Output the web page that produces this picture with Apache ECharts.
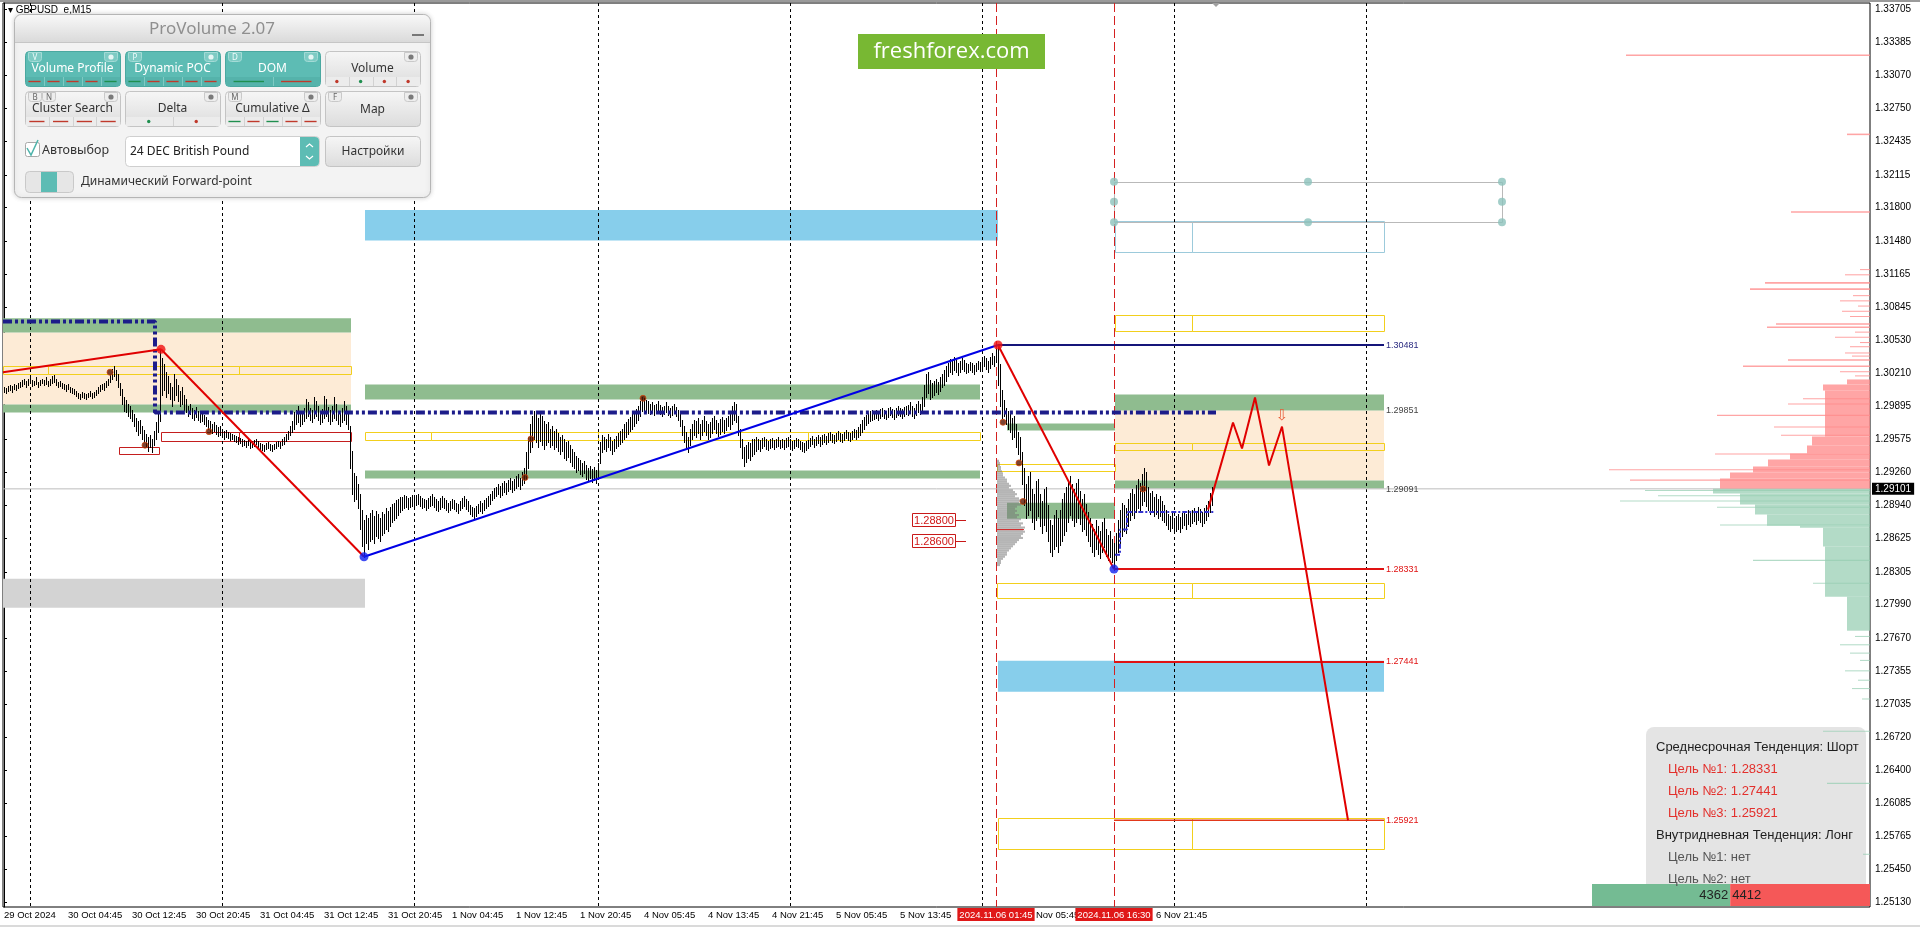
<!DOCTYPE html>
<html><head><meta charset="utf-8">
<script src="https://cdn.jsdelivr.net/npm/echarts@6/dist/echarts.min.js"></script>
<style>html,body{margin:0;padding:0;background:#fff;overflow:hidden}#c{width:1920px;height:927px}</style>
</head><body><div id="c"></div>
<script>
// ---------------- DATA ----------------
const barLow = [
1.3003,1.3002,1.3004,1.3005,1.3003,1.3006,1.3005,1.3007,1.3008,1.3009,
1.3011,1.3008,1.3010,1.3012,1.3009,1.3010,1.3011,1.3008,1.3010,1.3012,
1.3010,1.3011,1.3009,1.3010,1.3012,1.3013,1.3010,1.3008,1.3009,1.3007,
1.3006,1.3004,1.3006,1.3003,1.3002,1.3001,1.2999,1.2997,1.2996,1.2998,
1.2997,1.2996,1.2998,1.2999,1.2997,1.2998,1.3000,1.3002,1.3004,1.3006,
1.3005,1.3008,1.3010,1.3013,1.3016,1.3018,1.3015,1.3008,1.3000,1.2992,
1.2985,1.2984,1.2980,1.2978,1.2975,1.2970,1.2966,1.2962,1.2964,1.2958,
1.2955,1.2950,1.2946,1.2950,1.2945,1.2952,1.2958,1.2965,1.2975,1.3000,
1.3005,1.2998,1.3002,1.2996,1.2990,1.2995,1.3000,1.2994,1.2990,1.2992,
1.2986,1.2984,1.2980,1.2982,1.2978,1.2976,1.2979,1.2976,1.2974,1.2975,
1.2972,1.2970,1.2968,1.2966,1.2964,1.2966,1.2963,1.2961,1.2962,1.2960,
1.2958,1.2960,1.2959,1.2957,1.2958,1.2956,1.2955,1.2953,1.2954,1.2951,
1.2952,1.2950,1.2952,1.2949,1.2950,1.2951,1.2953,1.2950,1.2948,1.2947,
1.2946,1.2948,1.2949,1.2947,1.2946,1.2948,1.2949,1.2951,1.2949,1.2952,
1.2953,1.2956,1.2958,1.2962,1.2965,1.2968,1.2972,1.2974,1.2970,1.2972,
1.2975,1.2978,1.2980,1.2976,1.2974,1.2978,1.2980,1.2976,1.2972,1.2974,
1.2978,1.2980,1.2975,1.2972,1.2975,1.2978,1.2976,1.2972,1.2970,1.2974,
1.2976,1.2972,1.2968,1.2930,1.2905,1.2898,1.2900,1.2892,1.2872,1.2855,
1.2845,1.2858,1.2852,1.2860,1.2862,1.2858,1.2865,1.2863,1.2860,1.2866,
1.2868,1.2872,1.2870,1.2874,1.2878,1.2880,1.2882,1.2885,1.2888,1.2890,
1.2892,1.2893,1.2891,1.2893,1.2894,1.2892,1.2895,1.2896,1.2894,1.2892,
1.2893,1.2890,1.2892,1.2894,1.2895,1.2893,1.2890,1.2889,1.2891,1.2893,
1.2892,1.2890,1.2888,1.2890,1.2892,1.2891,1.2889,1.2887,1.2890,1.2892,
1.2894,1.2891,1.2889,1.2886,1.2884,1.2882,1.2884,1.2887,1.2889,1.2887,
1.2890,1.2892,1.2894,1.2896,1.2899,1.2901,1.2903,1.2905,1.2902,1.2904,
1.2907,1.2905,1.2908,1.2910,1.2907,1.2909,1.2911,1.2913,1.2910,1.2914,
1.2916,1.2920,1.2930,1.2945,1.2950,1.2958,1.2955,1.2950,1.2956,1.2952,
1.2948,1.2952,1.2955,1.2950,1.2952,1.2948,1.2950,1.2946,1.2944,1.2946,
1.2940,1.2938,1.2941,1.2936,1.2932,1.2930,1.2926,1.2928,1.2924,1.2922,
1.2925,1.2920,1.2918,1.2921,1.2917,1.2919,1.2916,1.2920,1.2935,1.2945,
1.2948,1.2946,1.2950,1.2947,1.2944,1.2946,1.2949,1.2951,1.2953,1.2955,
1.2958,1.2960,1.2963,1.2966,1.2968,1.2970,1.2973,1.2976,1.2980,1.2985,
1.2986,1.2984,1.2983,1.2982,1.2984,1.2981,1.2983,1.2985,1.2982,1.2980,
1.2982,1.2984,1.2981,1.2979,1.2981,1.2983,1.2980,1.2976,1.2970,1.2962,
1.2955,1.2948,1.2945,1.2952,1.2958,1.2962,1.2960,1.2964,1.2958,1.2962,
1.2966,1.2962,1.2958,1.2960,1.2964,1.2968,1.2964,1.2961,1.2963,1.2966,
1.2964,1.2967,1.2970,1.2968,1.2972,1.2976,1.2974,1.2962,1.2950,1.2940,
1.2932,1.2936,1.2940,1.2938,1.2942,1.2944,1.2946,1.2948,1.2946,1.2949,
1.2951,1.2948,1.2947,1.2949,1.2950,1.2948,1.2950,1.2951,1.2949,1.2950,
1.2948,1.2950,1.2951,1.2949,1.2947,1.2949,1.2951,1.2950,1.2948,1.2946,
1.2945,1.2947,1.2949,1.2951,1.2953,1.2950,1.2952,1.2954,1.2951,1.2953,
1.2955,1.2953,1.2955,1.2957,1.2955,1.2954,1.2956,1.2958,1.2956,1.2955,
1.2957,1.2959,1.2957,1.2956,1.2958,1.2960,1.2958,1.2960,1.2962,1.2965,
1.2968,1.2971,1.2973,1.2975,1.2976,1.2977,1.2978,1.2976,1.2978,1.2980,
1.2978,1.2977,1.2979,1.2981,1.2979,1.2977,1.2979,1.2981,1.2980,1.2978,
1.2980,1.2982,1.2981,1.2983,1.2980,1.2978,1.2981,1.2984,1.2982,1.2985,
1.2990,1.2998,1.3002,1.2996,1.2998,1.3000,1.3003,1.3001,1.3004,1.3008,
1.3010,1.3014,1.3018,1.3022,1.3020,1.3024,1.3022,1.3019,1.3022,1.3025,
1.3023,1.3021,1.3022,1.3024,1.3022,1.3020,1.3023,1.3025,1.3023,1.3026,
1.3028,1.3025,1.3022,1.3026,1.3030,1.3028,1.3032,1.3010,1.2990,1.2978,
1.2980,1.2972,1.2968,1.2965,1.2958,1.2960,1.2950,1.2944,1.2938,1.2915,
1.2895,1.2882,1.2885,1.2890,1.2878,1.2872,1.2880,1.2884,1.2874,1.2868,
1.2875,1.2870,1.2860,1.2850,1.2846,1.2852,1.2855,1.2850,1.2856,1.2860,
1.2866,1.2870,1.2878,1.2885,1.2880,1.2874,1.2878,1.2882,1.2876,1.2870,
1.2872,1.2866,1.2860,1.2855,1.2850,1.2846,1.2852,1.2848,1.2844,1.2850,
1.2854,1.2846,1.2842,1.2845,1.2840,1.2833,1.2842,1.2850,1.2858,1.2865,
1.2870,1.2868,1.2874,1.2880,1.2885,1.2882,1.2888,1.2892,1.2890,1.2895,
1.2898,1.2894,1.2890,1.2886,1.2888,1.2884,1.2886,1.2882,1.2884,1.2880,
1.2878,1.2875,1.2872,1.2870,1.2873,1.2868,1.2870,1.2872,1.2869,1.2873,
1.2875,1.2872,1.2876,1.2874,1.2877,1.2879,1.2876,1.2880,1.2878,1.2874,
1.2877,1.2880,1.2884,1.2888,1.2895];
const barHigh = [
1.3008,1.3007,1.3009,1.3010,1.3009,1.3011,1.3010,1.3012,1.3013,1.3015,
1.3016,1.3014,1.3016,1.3018,1.3015,1.3014,1.3017,1.3013,1.3015,1.3016,
1.3015,1.3017,1.3014,1.3016,1.3018,1.3019,1.3016,1.3013,1.3014,1.3012,
1.3011,1.3010,1.3011,1.3008,1.3007,1.3006,1.3004,1.3002,1.3001,1.3003,
1.3002,1.3001,1.3002,1.3004,1.3002,1.3003,1.3005,1.3008,1.3010,1.3011,
1.3012,1.3014,1.3016,1.3020,1.3025,1.3028,1.3024,1.3020,1.3012,1.3006,
1.2998,1.2995,1.2992,1.2990,1.2986,1.2982,1.2978,1.2975,1.2976,1.2970,
1.2967,1.2963,1.2960,1.2962,1.2958,1.2966,1.2974,1.2985,1.3044,1.3036,
1.3030,1.3022,1.3018,1.3012,1.3008,1.3020,1.3016,1.3010,1.3004,1.3008,
1.3000,1.2996,1.2990,1.2992,1.2988,1.2986,1.2989,1.2985,1.2983,1.2984,
1.2981,1.2979,1.2976,1.2975,1.2972,1.2974,1.2971,1.2969,1.2970,1.2968,
1.2966,1.2967,1.2965,1.2964,1.2963,1.2962,1.2961,1.2960,1.2959,1.2958,
1.2957,1.2956,1.2958,1.2955,1.2956,1.2957,1.2958,1.2956,1.2954,1.2953,
1.2952,1.2954,1.2955,1.2953,1.2952,1.2953,1.2955,1.2956,1.2955,1.2958,
1.2960,1.2963,1.2966,1.2970,1.2975,1.2984,1.2986,1.2990,1.2984,1.2985,
1.2988,1.2996,1.2993,1.2988,1.2986,1.2998,1.2994,1.2990,1.2985,1.2987,
1.2999,1.2996,1.2989,1.2986,1.2990,1.2998,1.2992,1.2985,1.2983,1.2988,
1.2994,1.2990,1.2985,1.2970,1.2946,1.2925,1.2922,1.2915,1.2905,1.2890,
1.2880,1.2885,1.2882,1.2887,1.2890,1.2884,1.2889,1.2886,1.2882,1.2888,
1.2886,1.2892,1.2889,1.2893,1.2896,1.2897,1.2899,1.2900,1.2902,1.2902,
1.2904,1.2903,1.2901,1.2902,1.2904,1.2903,1.2904,1.2905,1.2903,1.2901,
1.2900,1.2899,1.2901,1.2903,1.2905,1.2902,1.2900,1.2898,1.2901,1.2903,
1.2901,1.2899,1.2897,1.2898,1.2900,1.2899,1.2897,1.2896,1.2898,1.2901,
1.2903,1.2900,1.2898,1.2895,1.2893,1.2892,1.2894,1.2896,1.2898,1.2897,
1.2899,1.2901,1.2903,1.2905,1.2908,1.2911,1.2912,1.2915,1.2913,1.2916,
1.2918,1.2916,1.2919,1.2921,1.2918,1.2920,1.2922,1.2924,1.2921,1.2926,
1.2930,1.2945,1.2960,1.2972,1.2980,1.2985,1.2982,1.2978,1.2984,1.2980,
1.2975,1.2972,1.2974,1.2968,1.2970,1.2966,1.2968,1.2964,1.2960,1.2962,
1.2958,1.2955,1.2956,1.2952,1.2948,1.2945,1.2942,1.2940,1.2938,1.2935,
1.2937,1.2933,1.2930,1.2932,1.2929,1.2931,1.2928,1.2935,1.2955,1.2962,
1.2960,1.2958,1.2963,1.2960,1.2956,1.2958,1.2961,1.2964,1.2966,1.2968,
1.2972,1.2974,1.2977,1.2979,1.2982,1.2984,1.2987,1.2990,1.2994,1.2998,
1.2997,1.2995,1.2994,1.2992,1.2993,1.2991,1.2992,1.2994,1.2991,1.2989,
1.2990,1.2993,1.2990,1.2988,1.2990,1.2992,1.2989,1.2986,1.2982,1.2976,
1.2970,1.2965,1.2960,1.2968,1.2972,1.2976,1.2975,1.2978,1.2972,1.2976,
1.2980,1.2975,1.2972,1.2974,1.2978,1.2980,1.2976,1.2973,1.2977,1.2979,
1.2976,1.2978,1.2980,1.2984,1.2990,1.2993,1.2992,1.2980,1.2968,1.2958,
1.2950,1.2952,1.2955,1.2954,1.2958,1.2958,1.2960,1.2958,1.2957,1.2959,
1.2960,1.2958,1.2956,1.2958,1.2959,1.2957,1.2958,1.2960,1.2957,1.2958,
1.2957,1.2959,1.2960,1.2958,1.2956,1.2957,1.2959,1.2958,1.2956,1.2955,
1.2954,1.2956,1.2957,1.2959,1.2961,1.2958,1.2960,1.2962,1.2960,1.2962,
1.2963,1.2961,1.2964,1.2965,1.2963,1.2962,1.2964,1.2966,1.2964,1.2963,
1.2965,1.2967,1.2965,1.2964,1.2966,1.2968,1.2967,1.2969,1.2972,1.2976,
1.2979,1.2981,1.2983,1.2985,1.2986,1.2985,1.2986,1.2985,1.2987,1.2988,
1.2986,1.2985,1.2988,1.2989,1.2987,1.2986,1.2988,1.2990,1.2988,1.2987,
1.2989,1.2990,1.2991,1.2993,1.2990,1.2988,1.2992,1.2994,1.2992,1.2998,
1.3010,1.3020,1.3022,1.3015,1.3012,1.3014,1.3016,1.3013,1.3017,1.3020,
1.3024,1.3028,1.3031,1.3035,1.3033,1.3037,1.3034,1.3031,1.3033,1.3036,
1.3034,1.3031,1.3030,1.3032,1.3031,1.3029,1.3031,1.3033,1.3032,1.3035,
1.3038,1.3036,1.3033,1.3037,1.3040,1.3038,1.3044,1.3048,1.3030,1.3005,
1.2995,1.2988,1.2985,1.2982,1.2978,1.2980,1.2972,1.2965,1.2960,1.2945,
1.2930,1.2915,1.2922,1.2926,1.2910,1.2905,1.2918,1.2920,1.2905,1.2898,
1.2910,1.2912,1.2895,1.2880,1.2875,1.2885,1.2890,1.2882,1.2890,1.2900,
1.2906,1.2912,1.2918,1.2922,1.2915,1.2910,1.2916,1.2920,1.2908,1.2900,
1.2905,1.2896,1.2888,1.2882,1.2876,1.2872,1.2880,1.2874,1.2870,1.2878,
1.2882,1.2872,1.2866,1.2870,1.2862,1.2858,1.2868,1.2880,1.2890,1.2897,
1.2895,1.2892,1.2900,1.2906,1.2910,1.2905,1.2914,1.2920,1.2916,1.2924,
1.2930,1.2926,1.2912,1.2906,1.2908,1.2902,1.2905,1.2900,1.2903,1.2898,
1.2895,1.2890,1.2886,1.2884,1.2887,1.2882,1.2884,1.2886,1.2883,1.2887,
1.2889,1.2886,1.2890,1.2888,1.2890,1.2892,1.2889,1.2893,1.2891,1.2888,
1.2892,1.2895,1.2898,1.2906,1.2912];

const yTickValues = [1.33705,1.33385,1.33070,1.32750,1.32435,1.32115,1.31800,1.31480,1.31165,1.30845,1.30530,1.30210,1.29895,1.29575,1.29260,1.28940,1.28625,1.28305,1.27990,1.27670,1.27355,1.27035,1.26720,1.26400,1.26085,1.25765,1.25450,1.25130];
const xTickIdx = [0,32,64,96,128,160,192,224,256,288,320,352,384,416,448,480,512,544,576];
const xTickText = ['29 Oct 2024','30 Oct 04:45','30 Oct 12:45','30 Oct 20:45','31 Oct 04:45','31 Oct 12:45','31 Oct 20:45','1 Nov 04:45','1 Nov 12:45','1 Nov 20:45','4 Nov 05:45','4 Nov 13:45','4 Nov 21:45','5 Nov 05:45','5 Nov 13:45','5 Nov 21:45','6 Nov 05:45','6 Nov 13:45','6 Nov 21:45'];
const markIdx = [496, 555];
const markText = ['2024.11.06 01:45','2024.11.06 16:30'];
const daySepIdx = [13,109,205,297,393,489,585,681];
const lastPrice = 1.29101;

// zones: [startBar, endBar, lowPrice, highPrice]
const greenBands = [[-0.5,173.5,1.30602,1.30737],[-0.5,173.5,1.29834,1.29911],[180.5,488,1.29959,1.30103],[180.5,488,1.29200,1.29277],[501.5,555.5,1.29661,1.29728],[501.5,555.5,1.28815,1.28969],[555.5,690,1.29853,1.30007],[555.5,690,1.29104,1.29181]];
const peachZones = [[-0.5,173.5,1.29911,1.30602],[555.5,690,1.29181,1.29853]];
const blueZones = [[180.5,497,1.31484,1.31778],[497,690,1.27154,1.27451]];
const grayZones = [[-0.5,180.5,1.27960,1.28239]];
const yellowBoxes = [[-0.5,22,1.30208,1.30276],[22,117.5,1.30208,1.30276],[117.5,173.5,1.30208,1.30276],
 [180.5,213.5,1.29574,1.29651],[213.5,297,1.29574,1.29651],[297,402,1.29574,1.29651],[402,488,1.29574,1.29651],
 [496.5,555.5,1.29277,1.29344],[555.5,594,1.30612,1.30766],[594,690,1.30612,1.30766],
 [555.5,594,1.29478,1.29545],[594,690,1.29478,1.29545],[496.5,594,1.28057,1.28201],[594,690,1.28057,1.28201],
 [497,594,1.25645,1.25943],[594,690,1.25645,1.25943]];
const redBoxes = [[57.5,77.5,1.29437,1.29503],[78.5,117.5,1.29565,1.29642],[117.5,173.5,1.29565,1.29642]];
const lightBlueBoxes = [[555.5,594,1.31378,1.31668],[594,690,1.31378,1.31668]];
const selectedRect = [[555,749,1.31660,1.32049]];
const selectedDots = [[555,1.32049],[652,1.32049],[749,1.32049],[555,1.31855],[749,1.31855],[555,1.31660],[652,1.31660],[749,1.31660]];

// trend lines / levels
const trendRed1 = [[-0.5,1.30221],[78.5,1.30440]];
const trendRed2 = [[78.5,1.30440],[180,1.28449]];
const trendBlue = [[180,1.28449],[497,1.30481]];
const trendRed3 = [[497,1.30481],[555,1.28331]];
const levelPrices = [1.30481,1.28331,1.27441,1.25921];
const levelStart = [497,555,555,555];
const levelEnd = 690;
const levelLabelPrices = [1.30481,1.29851,1.29091,1.28331,1.27441,1.25921];
const forecastIdx = [602,614.5,619,625.5,632.5,639,672];
const forecastPrice = [1.28902,1.29738,1.29488,1.29978,1.29325,1.29699,1.25921];
const arrowPoint = [639,1.29800];
const pocMain = [[-0.5,1.30708],[75.5,1.30708],[75.5,1.29834],[606,1.29834]];
const pocShort = [[555.5,1.2847],[558,1.2847],[558,1.2871],[561.5,1.2871],[561.5,1.2888],[605.5,1.2888]];
const swingHighs = [[78.5,1.30440],[497,1.30481]];
const swingLows = [[180,1.28449],[555,1.28331]];
const fractalDots = [[53,1.3022],[70.5,1.2952],[102.5,1.2965],[260.5,1.2921],[263.5,1.2958],[319.5,1.2997],[499.5,1.2974],[507.5,1.2935],[509.5,1.2898],[569.5,1.2910]];
const priceTags = [1.28800,1.28600];

// session volume profile (left of 2024.11.06): [lowPrice, highPrice, volume in bars]
const sessionProfile = [[1.2936,1.2938,1],[1.2934,1.2936,1.5],[1.2932,1.2934,1.5],[1.2930,1.2932,2],[1.2928,1.2930,2],[1.2926,1.2928,2.5],[1.2924,1.2926,3],[1.2922,1.2924,3],[1.2920,1.2922,4],[1.2918,1.2920,5],[1.2916,1.2918,5],[1.2914,1.2916,6],[1.2912,1.2914,7],[1.2910,1.2912,6],[1.2908,1.2910,8],[1.2906,1.2908,9],[1.2904,1.2906,10],[1.2902,1.2904,9],[1.2900,1.2902,11],[1.2898,1.2900,12],[1.2896,1.2898,11],[1.2894,1.2896,12],[1.2892,1.2894,10],[1.2890,1.2892,9],[1.2888,1.2890,10],[1.2886,1.2888,9],[1.2884,1.2886,11],[1.2882,1.2884,10],[1.2880,1.2882,12],[1.2878,1.2880,11],[1.2876,1.2878,13],[1.2874,1.2876,12],[1.2872,1.2874,14],[1.2870,1.2872,13],[1.2868,1.2870,14],[1.2866,1.2868,13],[1.2864,1.2866,12],[1.2862,1.2864,13],[1.2860,1.2862,11],[1.2858,1.2860,10],[1.2856,1.2858,9],[1.2854,1.2856,8],[1.2852,1.2854,7],[1.2850,1.2852,6],[1.2848,1.2850,5],[1.2846,1.2848,5],[1.2844,1.2846,4],[1.2842,1.2844,3],[1.2840,1.2842,2],[1.2838,1.2840,2],[1.2836,1.2838,1.5]];
const sessionPoc = 1.2871;

// DOM profile at right edge: [lowPrice, highPrice, volume]
const askProfile = [[1.33255,1.33270,244],[1.32495,1.32510,23],[1.31750,1.31765,79],[1.31200,1.31210,10],[1.31150,1.31160,25],[1.31070,1.31085,105],[1.31010,1.31025,120],[1.30950,1.30960,17],[1.30900,1.30910,30],[1.30850,1.30860,12],[1.30800,1.30810,28],[1.30750,1.30760,20],[1.30675,1.30690,94],[1.30645,1.30660,103],[1.30600,1.30610,15],[1.30550,1.30560,35],[1.30500,1.30510,10],[1.30460,1.30470,20],[1.30400,1.30410,25],[1.30370,1.30380,18],[1.30330,1.30345,82],[1.30270,1.30285,127],[1.30220,1.30230,30],[1.30180,1.30190,15],[1.30103,1.30151,23],[1.30045,1.30103,47],[1.29603,1.30045,45],[1.29960,1.29970,67],[1.29910,1.29920,82],[1.29800,1.29812,153],[1.29690,1.29700,96],[1.29610,1.29620,89],[1.29517,1.29603,58],[1.29440,1.29517,63],[1.29382,1.29440,80],[1.29430,1.29440,155],[1.29315,1.29382,102],[1.29257,1.29315,117],[1.29280,1.29290,261],[1.29200,1.29257,140],[1.29180,1.29190,240],[1.29101,1.29200,150]];
const bidProfile = [[1.29056,1.29101,157],[1.29080,1.29090,225],[1.29030,1.29040,212],[1.28950,1.29056,130],[1.28980,1.28990,250],[1.28854,1.28950,115],[1.28920,1.28930,153],[1.28748,1.28854,103],[1.28750,1.28760,150],[1.28729,1.28748,70],[1.28547,1.28729,47],[1.28066,1.28547,45],[1.28410,1.28420,117],[1.28190,1.28200,57],[1.27740,1.28066,23],[1.27680,1.27690,15],[1.27600,1.27610,30],[1.27520,1.27530,20],[1.27450,1.27460,10],[1.27350,1.27360,25],[1.27260,1.27270,12],[1.27180,1.27190,18],[1.27080,1.27090,8],[1.26770,1.26780,47],[1.26270,1.26280,43],[1.25590,1.25600,7]];
const buyVol = 4362, sellVol = 4412;
const infoLines = ['Среднесрочная Тенденция: Шорт','Цель №1: 1.28331','Цель №2: 1.27441','Цель №3: 1.25921','Внутридневная Тенденция: Лонг','Цель №1: нет','Цель №2: нет'];

// ---------------- CHART ----------------
const Y_MIN = 1.25089, Y_MAX = 1.33763, X_MIN = -0.5, X_MAX = 933;
const F = '"Liberation Sans", Arial, sans-serif';
const UI = '"Noto Sans", "Open Sans", sans-serif';
const chart = echarts.init(document.getElementById('c'), null, {width:1920, height:927});

const crisp = v => Math.round(v) + 0.5;
function fillZones(data, color, z){
  return {type:'custom', z, silent:true, data, encode:{x:[0,1], y:[2,3]},
    renderItem(p, api){
      const a = api.coord([api.value(0), api.value(3)]), b = api.coord([api.value(1), api.value(2)]);
      return {type:'rect', shape:{x:a[0], y:a[1], width:b[0]-a[0], height:b[1]-a[1]}, style:{fill:color}};
    }};
}
function strokeZones(data, color, z, lw){
  return {type:'custom', z, silent:true, data, encode:{x:[0,1], y:[2,3]},
    renderItem(p, api){
      const a = api.coord([api.value(0), api.value(3)]), b = api.coord([api.value(1), api.value(2)]);
      const x0 = crisp(a[0]), y0 = crisp(a[1]), x1 = crisp(b[0]), y1 = crisp(b[1]);
      return {type:'rect', shape:{x:x0, y:y0, width:x1-x0, height:y1-y0}, style:{fill:'none', stroke:color, lineWidth:lw||1}};
    }};
}
function vLines(idx, color, dash, z){
  return {type:'custom', z, silent:true, data: idx.map(v=>[v, Y_MIN]), encode:{x:0, y:1},
    renderItem(p, api){
      const a = api.coord([api.value(0), Y_MAX]), b = api.coord([api.value(0), Y_MIN]);
      const x = crisp(a[0]);
      return {type:'line', shape:{x1:x, y1:a[1], x2:x, y2:b[1]}, style:{stroke:color, lineWidth:1, lineDash:dash}};
    }};
}
function poly(data, color, width, z, dash){
  return {type:'line', z, silent:true, data, symbol:'none', animation:false,
    lineStyle:{color, width, type: dash || 'solid'}};
}
function profileSeries(data, color, z){
  return {type:'custom', z, silent:true, xAxisIndex:2, data, encode:{x:2, y:[0,1]},
    renderItem(p, api){
      const a = api.coord([api.value(2), api.value(1)]), b = api.coord([0, api.value(0)]);
      const h = Math.max(1, b[1]-a[1]);
      return {type:'rect', shape:{x:a[0], y:a[1], width:b[0]-a[0], height:h}, style:{fill:color}};
    }};
}

const levelColors = ['#15157a','#e01212','#e01212','#e2381a'];
const levelWidths = [2,2,2,1.5];
const levelLabelColors = ['#2a2a80','#444','#444','#e01212','#e01212','#e01212'];

const series = [];
series.push(fillZones(peachZones, '#fdebd6', 1));
series.push(fillZones(greenBands, '#8fbc8f', 1));
series.push(fillZones(blueZones, '#87ceeb', 1));
series.push(fillZones(grayZones, '#d3d3d3', 1));
series.push(strokeZones(yellowBoxes, '#f2cf1d', 2));
series.push(strokeZones(redBoxes, '#c41e1e', 2));
series.push(strokeZones(lightBlueBoxes, '#9ccadb', 2));
series.push(strokeZones(selectedRect, '#b9b9b9', 2));
series.push(vLines(daySepIdx, '#000', [3,3], 3));
series.push(vLines(markIdx, '#d42020', [9,4], 3));
series.push(poly([[X_MIN,lastPrice],[X_MAX,lastPrice]], '#bdbdbd', 1, 3));
// session profile
series.push({type:'custom', z:3, silent:true, data:sessionProfile, encode:{x:2, y:[0,1]},
  renderItem(p, api){
    const a = api.coord([markIdx[0]+0.5, api.value(1)]), b = api.coord([markIdx[0]+0.5+api.value(2), api.value(0)]);
    return {type:'rect', shape:{x:a[0], y:a[1], width:b[0]-a[0], height:b[1]-a[1]}, style:{fill:'rgba(120,120,120,0.55)'}};
  }});
series.push(poly([[markIdx[0]+0.5,sessionPoc],[markIdx[0]+14,sessionPoc]], '#d42020', 1, 4));
// DOM profile
series.push(profileSeries(askProfile, 'rgba(255,140,140,0.78)', 4));
series.push(profileSeries(bidProfile, 'rgba(150,205,178,0.72)', 4));
// price bars
series.push({type:'custom', z:5, silent:true, data: barLow.map((l,i)=>[i,l,barHigh[i]]), encode:{x:0, y:[1,2]},
  renderItem(p, api){
    const a = api.coord([api.value(0), api.value(1)]), b = api.coord([api.value(0), api.value(2)]);
    const x = crisp(a[0]);
    return {type:'line', shape:{x1:x, y1:Math.round(a[1])+1, x2:x, y2:Math.round(b[1])}, style:{stroke:'#000', lineWidth:1}};
  }});
// POC lines
series.push(poly(pocMain, '#1c1c8a', 4, 6, [9,3,3,3,3,3]));
series.push(poly(pocShort, '#3434d0', 2, 6, [5,2,2,2]));
// trend lines
series.push(poly(trendRed1, '#e00000', 2, 7));
series.push(poly(trendRed2, '#e00000', 2, 7));
series.push(poly(trendBlue, '#0000e6', 2, 7));
series.push(poly(trendRed3, '#e00000', 2, 7));
levelPrices.forEach((p,k)=>series.push(poly([[levelStart[k],p],[levelEnd,p]], levelColors[k], levelWidths[k], 7)));
series.push(poly(forecastIdx.map((x,k)=>[x, forecastPrice[k]]), '#e00000', 2, 8));
// level labels
series.push({type:'custom', z:8, silent:true, data: levelLabelPrices.map(p=>[levelEnd, p]), encode:{x:0, y:1},
  renderItem(p, api){
    const c = api.coord([levelEnd+1, api.value(1)]);
    return {type:'text', x:c[0], y:c[1], style:{text: api.value(1).toFixed(5), fill: levelLabelColors[p.dataIndex], font:'9px '+F, align:'left', verticalAlign:'middle', textAlign:'left', textVerticalAlign:'middle'}};
  }});
// price tags 1.28800 / 1.28600
series.push({type:'custom', z:8, silent:true, data: priceTags.map(p=>[454, p]), encode:{x:0, y:1},
  renderItem(p, api){
    const a = api.coord([454, api.value(1)]), b = api.coord([475.5, api.value(1)]), c = api.coord([481, api.value(1)]);
    const y = Math.round(a[1]);
    return {type:'group', children:[
      {type:'rect', shape:{x:crisp(a[0]), y:y-6.5, width:Math.round(b[0]-a[0]), height:13}, style:{fill:'#fff', stroke:'#c81818', lineWidth:1}},
      {type:'line', shape:{x1:b[0]+1, y1:y+0.5, x2:c[0], y2:y+0.5}, style:{stroke:'#c81818', lineWidth:1}},
      {type:'text', x:(a[0]+b[0])/2+0.5, y:y+0.5, style:{text: api.value(1).toFixed(5), fill:'#d01818', font:'11px '+F, align:'center', verticalAlign:'middle', textAlign:'center', textVerticalAlign:'middle'}}
    ]};
  }});
// forecast arrow
series.push({type:'custom', z:8, silent:true, data:[arrowPoint], encode:{x:0, y:1},
  renderItem(p, api){
    const c = api.coord([api.value(0), api.value(1)]);
    return {type:'text', x:c[0], y:c[1], style:{text:'⇩', fill:'#e8603c', font:'15px "DejaVu Sans"', align:'center', verticalAlign:'middle', textAlign:'center', textVerticalAlign:'middle'}};
  }});
// markers
series.push({type:'scatter', z:9, silent:true, data:fractalDots, symbolSize:6, itemStyle:{color:'#5a1500', borderColor:'#d04a10', borderWidth:1}});
series.push({type:'scatter', z:9, silent:true, data:selectedDots, symbolSize:8, itemStyle:{color:'#8cc2bb'}});
series.push({type:'scatter', z:10, silent:true, data:swingHighs, symbolSize:9, itemStyle:{color:'#f01010'}});
series.push({type:'scatter', z:10, silent:true, data:swingLows, symbolSize:9, itemStyle:{color:'#1020f0'}});
// buy / sell bar
series.push({type:'bar', xAxisIndex:3, yAxisIndex:2, stack:'bs', data:[buyVol], barWidth:22, z:4, silent:true,
  itemStyle:{color:'#74bb93'}, label:{show:true, position:'insideRight', distance:2, color:'#222', fontSize:13, fontFamily:F}});
series.push({type:'bar', xAxisIndex:3, yAxisIndex:2, stack:'bs', data:[sellVol], barWidth:22, z:4, silent:true,
  itemStyle:{color:'#f55858'}, label:{show:true, position:'insideLeft', distance:2, color:'#222', fontSize:13, fontFamily:F}});

// ---------------- GRAPHICS (panel, logo, info box) ----------------
const TEAL = '#5dbcb4';
const grad = () => new echarts.graphic.LinearGradient(0,0,0,1,[{offset:0,color:'#f6f6f6'},{offset:1,color:'#dcdcdc'}]);
function txt(x,y,text,font,fill,align){
  return {type:'text', x, y, style:{text, font, fill, align:align||'left', verticalAlign:'middle', textAlign:align||'left', textVerticalAlign:'middle'}};
}
function button(x,y,w,h,label,teal,tabs,segs){
  const els = [];
  els.push({type:'rect', shape:{x:x+.5,y:y+.5,width:w,height:h,r:4}, style:{fill: teal?TEAL:grad(), stroke: teal?'#4aa8a0':'#c4c4c4', lineWidth:1}});
  let tx = x+3;
  tabs.forEach(t=>{
    els.push({type:'rect', shape:{x:tx+.5,y:y+1.5,width:13,height:9,r:[0,0,3,3]}, style:{fill: teal?'#7ecbc4':'#ededed', stroke: teal?'#a3dbd6':'#c9c9c9', lineWidth:1}});
    els.push(txt(tx+7, y+6.5, t, '8px '+UI, teal?'#effcfb':'#666', 'center'));
    tx += 14;
  });
  els.push({type:'rect', shape:{x:x+w-15.5,y:y+1.5,width:13,height:9,r:[0,0,3,3]}, style:{fill: teal?'#7ecbc4':'#ededed', stroke: teal?'#a3dbd6':'#c9c9c9', lineWidth:1}});
  els.push({type:'circle', shape:{cx:x+w-9, cy:y+6, r:2.6}, style:{fill: teal?'#e6f6f4':'#7a7a7a'}});
  const hs = segs.length>0;
  els.push(txt(x+w/2, y+(hs? h*0.5 : h/2+1), label, '12px '+UI, teal?'#ffffff':'#333', 'center'));
  if(hs){
    const sy = y+h-9, sw = w/segs.length;
    els.push({type:'rect', shape:{x:x+1, y:sy, width:w-1, height:9}, style:{fill: teal?'#55b3ab':'#ececec'}});
    segs.forEach((s,k)=>{
      const cx = x+sw*k+sw/2;
      if(k>0) els.push({type:'line', shape:{x1:Math.round(x+sw*k)+.5, y1:sy, x2:Math.round(x+sw*k)+.5, y2:y+h}, style:{stroke: teal?'#7fcac3':'#d2d2d2', lineWidth:1}});
      const col = s[0]==='r' ? '#c0392b' : '#1f8f4f';
      if(s[1]==='-') els.push({type:'line', shape:{x1:cx-sw*0.32, y1:sy+4.5, x2:cx+sw*0.32, y2:sy+4.5}, style:{stroke:col, lineWidth:1.4}});
      else els.push({type:'circle', shape:{cx, cy:sy+4.5, r:1.7}, style:{fill:col}});
    });
  }
  return els;
}
let panel = [];
panel.push({type:'rect', shape:{x:14.5,y:14.5,width:416,height:183,r:7}, style:{fill:'#f3f3f3', stroke:'#b5b5b5', lineWidth:1, shadowBlur:5, shadowColor:'rgba(0,0,0,0.18)'}});
panel.push({type:'rect', shape:{x:15,y:15,width:415,height:27,r:[7,7,0,0]}, style:{fill: new echarts.graphic.LinearGradient(0,0,0,1,[{offset:0,color:'#f8f8f8'},{offset:1,color:'#dadada'}])}});
panel.push({type:'line', shape:{x1:15,y1:42.5,x2:430,y2:42.5}, style:{stroke:'#c6c6c6', lineWidth:1}});
panel.push(txt(212, 29, 'ProVolume 2.07', '17px '+UI, '#8f8f8f', 'center'));
panel.push({type:'rect', shape:{x:412,y:34,width:12,height:2}, style:{fill:'#777'}});
panel = panel.concat(
  button(25,51,95,35,'Volume Profile',true,['V'],['r-','r-','r-','r-','g-']),
  button(125,51,95,35,'Dynamic POC',true,['P'],['g-','r-','r-','r-','r-']),
  button(225,51,95,35,'DOM',true,['D'],['g-','r-']),
  button(325,51,95,35,'Volume',false,[],['r.','g.','r.','r.']),
  button(25,91,95,35,'Cluster Search',false,['B','N'],['r-','r-','r-','r-']),
  button(125,91,95,35,'Delta',false,[],['g.','r.']),
  button(225,91,95,35,'Cumulative Δ',false,['M'],['g-','r-','g-','r-','r-']),
  button(325,91,95,35,'Map',false,['F'],[])
);
panel.push({type:'rect', shape:{x:25.5,y:142.5,width:14,height:14,r:2}, style:{fill:'#fff', stroke:'#a8a8a8', lineWidth:1}});
panel.push({type:'polyline', shape:{points:[[27,148],[31,155],[38,140]]}, style:{stroke:'#4db3aa', lineWidth:1.5, fill:'none'}});
panel.push(txt(42, 150, 'Автовыбор', '12.5px '+UI, '#333'));
panel.push({type:'rect', shape:{x:125.5,y:136.5,width:194,height:30,r:4}, style:{fill:'#fff', stroke:'#cfcfcf', lineWidth:1}});
panel.push(txt(130, 152, '24 DEC British Pound', '12px '+UI, '#222'));
panel.push({type:'rect', shape:{x:300,y:137,width:19,height:29,r:[0,4,4,0]}, style:{fill:TEAL}});
panel.push({type:'polyline', shape:{points:[[306,147],[309.5,144],[313,147]]}, style:{stroke:'#fff', lineWidth:1.2, fill:'none'}});
panel.push({type:'polyline', shape:{points:[[306,156],[309.5,159],[313,156]]}, style:{stroke:'#fff', lineWidth:1.2, fill:'none'}});
panel.push({type:'rect', shape:{x:325.5,y:136.5,width:95,height:30,r:4}, style:{fill:grad(), stroke:'#c4c4c4', lineWidth:1}});
panel.push(txt(373, 152, 'Настройки', '12px '+UI, '#333', 'center'));
panel.push({type:'rect', shape:{x:25.5,y:171.5,width:48,height:21,r:4}, style:{fill:'#e6e6e6', stroke:'#c9c9c9', lineWidth:1}});
panel.push({type:'rect', shape:{x:41,y:172,width:16,height:20}, style:{fill:TEAL}});
panel.push(txt(81, 182, 'Динамический Forward-point', '12px '+UI, '#333'));
panel = panel.map(e => Object.assign(e, {z:100}));

const graphics = [
  {type:'rect', shape:{x:0,y:0,width:1920,height:2}, style:{fill:'#9a9a9a'}, z:50},
  {type:'rect', shape:{x:0,y:925,width:1920,height:2}, style:{fill:'#dadada'}, z:50},
  Object.assign(txt(8, 10, '▾ GBPUSD_e,M15', '10px '+F, '#000'), {z:60}),
  {type:'polygon', shape:{points:[[1212,3],[1220,3],[1216,7]]}, style:{fill:'#a0a0a0'}, z:60},
  {type:'rect', shape:{x:858,y:34,width:187,height:35}, style:{fill:'#78b833'}, z:60},
  Object.assign(txt(951.5, 51.5, 'freshforex.com', '22px "Open Sans", sans-serif', '#ffffff', 'center'), {z:61}),
  {type:'rect', shape:{x:1646,y:727,width:220,height:171,r:8}, style:{fill:'rgba(226,226,226,0.92)'}, z:1},
].concat(panel);
const infoColors = ['#1e1e1e','#e3302c','#e3302c','#e3302c','#1e1e1e','#555','#555'];
const infoX = [1656,1668,1668,1668,1656,1668,1668];
infoLines.forEach((t,k)=>graphics.push(Object.assign(txt(infoX[k], 747+k*22, t, '13px '+F, infoColors[k]), {z:70})));

const option = {
  animation:false,
  backgroundColor:'#ffffff',
  grid:[
    {left:3, top:3, right:50, bottom:20, show:true, borderColor:'#000', borderWidth:1, backgroundColor:'transparent'},
    {left:1592, top:884, width:278, height:22}
  ],
  xAxis:[
    {type:'value', min:X_MIN, max:X_MAX, position:'bottom', gridIndex:0,
      axisLine:{show:false}, axisTick:{show:false}, splitLine:{show:false},
      axisLabel:{customValues:xTickIdx, formatter:v=>xTickText[xTickIdx.indexOf(v)] || '', color:'#000', fontSize:9.5, fontFamily:F, align:'left', margin:3, hideOverlap:false}},
    {type:'value', min:X_MIN, max:X_MAX, position:'bottom', gridIndex:0, z:20,
      axisLine:{show:false}, axisTick:{show:false}, splitLine:{show:false},
      axisLabel:{customValues:markIdx, formatter:v=>markText[markIdx.indexOf(v)] || '', color:'#fff', backgroundColor:'#e01818', padding:[2,2,1,2], fontSize:9.5, fontFamily:F, align:'center', margin:1, hideOverlap:false}},
    {type:'value', min:0, max:1867, inverse:true, gridIndex:0, show:false},
    {type:'value', min:0, max:buyVol+sellVol, gridIndex:1, show:false}
  ],
  yAxis:[
    {type:'value', min:Y_MIN, max:Y_MAX, position:'right', gridIndex:0,
      axisLine:{show:true, lineStyle:{color:'#000'}}, splitLine:{show:false},
      axisTick:{show:true, customValues:yTickValues, length:3, lineStyle:{color:'#000'}},
      axisLabel:{customValues:yTickValues, formatter:v=>v.toFixed(5), color:'#000', fontSize:10, fontFamily:F, margin:5, hideOverlap:false}},
    {type:'value', min:Y_MIN, max:Y_MAX, position:'right', gridIndex:0, z:20,
      axisLine:{show:false}, axisTick:{show:false}, splitLine:{show:false},
      axisLabel:{customValues:[lastPrice], formatter:v=>v.toFixed(5), color:'#fff', backgroundColor:'#000', padding:[1,3,1,3], fontSize:10, fontFamily:F, margin:2, hideOverlap:false}},
    {type:'category', data:['v'], gridIndex:1, show:false}
  ],
  series,
  graphic: graphics
};
chart.setOption(option);
</script>
</body></html>
